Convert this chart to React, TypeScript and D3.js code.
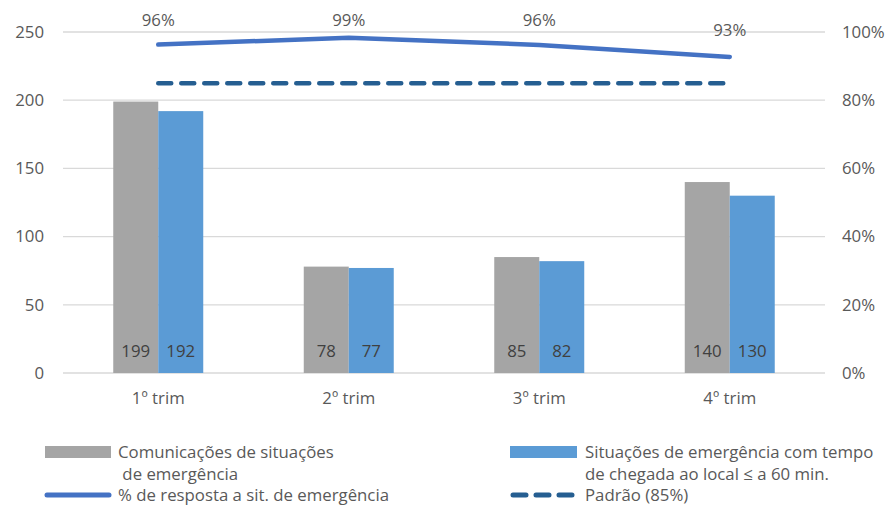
import React from "react";
import * as d3 from "d3";

const categories = ["1º trim", "2º trim", "3º trim", "4º trim"];
const comunicacoes = [199, 78, 85, 140];
const situacoes = [192, 77, 82, 130];
const respostaPct = [0.963, 0.983, 0.962, 0.927];
const respostaLabels = ["96%", "99%", "96%", "93%"];
const padrao = [0.85, 0.85, 0.85, 0.85];
const leftTicks = [0, 50, 100, 150, 200, 250];
const rightTicks = [0, 0.2, 0.4, 0.6, 0.8, 1.0];

const W = 888;
const H = 507;
const FONT = "'Open Sans', 'Noto Sans', sans-serif";
const TXT = "#595959";
const FS = 16.8;

export default function App() {
  const left = 63, right = 825, top = 32, bottom = 373;
  const x = d3.scaleBand<string>().domain(categories).range([left, right]).paddingInner(0.5276).paddingOuter(0.2638);
  const x1 = d3.scaleBand<string>().domain(["a", "b"]).range([0, x.bandwidth()]);
  const y = d3.scaleLinear().domain([0, 250]).range([bottom, top]);
  const yp = d3.scaleLinear().domain([0, 1]).range([bottom, top]);
  const cx = (c: string) => (x(c) as number) + x.bandwidth() / 2;

  const line = d3.line<number>().x((_, i) => cx(categories[i])).y((d) => yp(d));
  const dashLine = d3.line<number>().x((_, i) => cx(categories[i]) + (i === 3 ? -4 : 0)).y((d) => yp(d));

  return (
    <svg width={W} height={H} style={{ position: "absolute", left: 0, top: 0 }} fontFamily={FONT}>
      <rect width={W} height={H} fill="#fff" />
      {leftTicks.map((t) => (
        <g key={t}>
          <line x1={left} x2={right} y1={y(t)} y2={y(t)} stroke="#d9d9d9" strokeWidth={1.3} />
          <text x={44} y={y(t)} dy="0.35em" textAnchor="end" fontSize={FS} fill={TXT}>{t}</text>
        </g>
      ))}
      {rightTicks.map((t) => (
        <text key={t} x={842} y={yp(t)} dy="0.35em" textAnchor="start" fontSize={FS} fill={TXT}>
          {d3.format(".0%")(t)}
        </text>
      ))}
      {categories.map((c, i) => (
        <g key={c}>
          <rect x={(x(c) as number) + (x1("a") as number)} y={y(comunicacoes[i])} width={x1.bandwidth()} height={bottom - y(comunicacoes[i])} fill="#a5a5a5" />
          <rect x={(x(c) as number) + (x1("b") as number)} y={y(situacoes[i])} width={x1.bandwidth()} height={bottom - y(situacoes[i])} fill="#5b9bd5" />
          <text x={(x(c) as number) + (x1("a") as number) + x1.bandwidth() / 2} y={351} dy="0.35em" textAnchor="middle" fontSize={FS} fill="#404040">{comunicacoes[i]}</text>
          <text x={(x(c) as number) + (x1("b") as number) + x1.bandwidth() / 2} y={351} dy="0.35em" textAnchor="middle" fontSize={FS} fill="#404040">{situacoes[i]}</text>
          <text x={cx(c)} y={398} dy="0.35em" textAnchor="middle" fontSize={FS} fill={TXT}>{c}</text>
        </g>
      ))}
      <path d={dashLine(padrao) || ""} fill="none" stroke="#255e91" strokeWidth={4.5} strokeDasharray="13 10" strokeLinecap="round" />
      <path d={line(respostaPct) || ""} fill="none" stroke="#4472c4" strokeWidth={4.5} strokeLinecap="round" strokeLinejoin="round" />
      {respostaPct.map((p, i) => (
        <text key={i} x={cx(categories[i])} y={Math.max(20, yp(p) - 27)} dy="0.35em" textAnchor="middle" fontSize={FS} fill={TXT}>
          {respostaLabels[i]}
        </text>
      ))}
      {/* Legend */}
      <g fontSize={FS} fill={TXT}>
        <rect x={45} y={446} width={66} height={12} fill="#a5a5a5" />
        <text x={118} y={452} dy="0.35em">Comunicações de situações</text>
        <text x={118} y={474} dy="0.35em">{"\u00a0de emergência"}</text>
        <line x1={47} x2={109} y1={495} y2={495} stroke="#4472c4" strokeWidth={5} strokeLinecap="round" />
        <text x={118} y={495} dy="0.35em">% de resposta a sit. de emergência</text>
        <rect x={510} y={446} width={67} height={12} fill="#5b9bd5" />
        <text x={585} y={452} dy="0.35em">Situações de emergência com tempo</text>
        <text x={585} y={474} dy="0.35em">de chegada ao local ≤ a 60 min.</text>
        <line x1={513} x2={575} y1={495} y2={495} stroke="#255e91" strokeWidth={5} strokeLinecap="round" strokeDasharray="13 10" />
        <text x={585} y={495} dy="0.35em">Padrão (85%)</text>
      </g>
    </svg>
  );
}
